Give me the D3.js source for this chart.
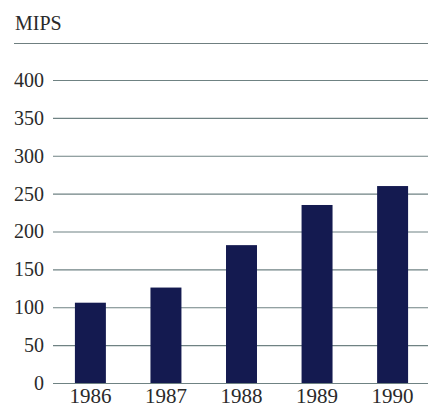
<html>
  <head>
    <style>
      body {
        margin: 0;
        background: white;
      }
    </style>
    <script src="https://cdn.jsdelivr.net/npm/d3@7"></script>
  </head>
  <body>
    <svg id="chart"></svg>
  </body>
  <script>
    let years = ["1986", "1987", "1988", "1989", "1990"];
    let mips = [106, 126, 182, 235, 260];
    let yTicks = [0, 50, 100, 150, 200, 250, 300, 350, 400];

    let serif = "'Liberation Serif', 'Times New Roman', serif";
    let width = 435;
    let height = 409;
    let container = d3.select("#chart").attr("width", width).attr("height", height);

    let xScale = d3.scaleBand().domain(years).range([53, 430]).paddingInner(0.59).paddingOuter(0.29);
    let yScale = d3.scaleLinear().domain([0, 400]).range([383, 80]);

    // unit label and top rule
    container.append("text")
      .attr("x", 15).attr("y", 30)
      .style("font-family", serif).style("font-size", "20px")
      .attr("fill", "#2a2a2a")
      .text("MIPS");
    container.append("line")
      .attr("x1", 14).attr("x2", 428).attr("y1", 43.5).attr("y2", 43.5)
      .attr("stroke", "#6f7f80").attr("stroke-width", 1.2);

    // grid lines with tick labels
    let axisY = d3.axisLeft(yScale).tickValues(yTicks).tickSize(-(428 - 53)).tickPadding(9);
    let gY = container.append("g").attr("transform", "translate(53,0)").call(axisY);
    gY.select(".domain").remove();
    gY.selectAll("line").attr("stroke", "#6f8283").attr("stroke-width", 1.1);
    gY.selectAll("text")
      .style("font-family", serif).style("font-size", "20px")
      .attr("fill", "#2a2a2a");

    // bars
    container.selectAll(".bar")
      .data(years)
      .enter()
      .append("rect")
      .attr("class", "bar")
      .attr("x", (d) => xScale(d))
      .attr("width", xScale.bandwidth())
      .attr("y", (d, i) => yScale(mips[i]))
      .attr("height", (d, i) => yScale(0) - yScale(mips[i]))
      .attr("fill", "#141a50");

    // year labels
    let axisX = d3.axisBottom(xScale).tickSize(0).tickPadding(5.5);
    let gX = container.append("g").attr("transform", "translate(0,383)").call(axisX);
    gX.select(".domain").remove();
    gX.selectAll("text")
      .style("font-family", serif).style("font-size", "21px")
      .attr("fill", "#2a2a2a");
  </script>
</html>
